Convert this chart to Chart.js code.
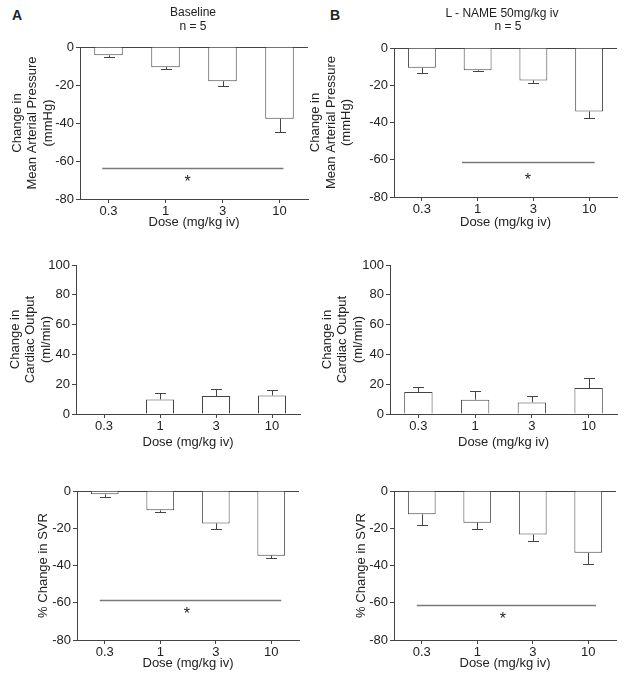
<!DOCTYPE html>
<html>
<head>
<meta charset="utf-8">
<script src="https://cdn.jsdelivr.net/npm/chart.js@4/dist/chart.umd.min.js"></script>
<style>
  body { margin: 0; background: #fff; width: 624px; height: 677px; position: relative; overflow: hidden; font-family: "Liberation Sans", Arial, sans-serif; color: #222; }
  canvas { position: absolute; }
  .lbl { position: absolute; font-size: 12px; line-height: 14px; text-align: center; width: 200px; color: #222; will-change: transform; }
  .big { position: absolute; font-size: 14px; font-weight: bold; line-height: 14px; }
</style>
</head>
<body>
<div class="big" style="left:12px; top:8px;">A</div>
<div class="big" style="left:330px; top:8px;">B</div>
<div class="lbl" style="left:93px; top:5px;">Baseline</div>
<div class="lbl" style="left:93px; top:19px;">n = 5</div>
<div class="lbl" style="left:402px; top:6px;">L - NAME 50mg/kg iv</div>
<div class="lbl" style="left:408px; top:19px;">n = 5</div>

<canvas id="mapA"></canvas>
<canvas id="mapB"></canvas>
<canvas id="coA"></canvas>
<canvas id="coB"></canvas>
<canvas id="svrA"></canvas>
<canvas id="svrB"></canvas>

<script>
// doses on the x axis
const doses = ['0.3', '1', '3', '10'];

// mean arterial pressure (mmHg), mean and SEM
const mapBaseline = [-4.4, -10.6, -18.0, -37.7];
const mapBaselineErr = [0.9, 1.1, 2.4, 6.9];
const mapLname = [-10.6, -12.0, -17.4, -34.1];
const mapLnameErr = [2.7, 0.6, 1.6, 3.7];

// cardiac output (ml/min)
const coBaseline = [0, 9.8, 12.1, 12.5];
const coBaselineErr = [0, 4.0, 4.6, 3.3];
const coLname = [14.8, 9.6, 7.8, 17.4];
const coLnameErr = [3.3, 5.6, 4.3, 6.5];

// % change in SVR
const svrBaseline = [-1.8, -10.4, -17.4, -34.7];
const svrBaselineErr = [1.6, 1.0, 3.0, 1.1];
const svrLname = [-12.5, -17.0, -23.4, -33.2];
const svrLnameErr = [5.5, 3.5, 3.4, 6.1];

// y ticks
const negTicks = [0, -20, -40, -60, -80];
const posTicks = [0, 20, 40, 60, 80, 100];

// significance bars: y value, from/to dose index, star position
const sigMapA = { y: -63.5, from: -0.11, to: 3.07, starX: 1.39, starY: -69.6 };
const sigMapB = { y: -61.2, from: 0.72, to: 3.1, starX: 1.9, starY: -69.8 };
const sigSvrA = { y: -58.5, from: -0.09, to: 3.18, starX: 1.48, starY: -64.8 };
const sigSvrB = { y: -61.4, from: -0.09, to: 3.14, starX: 1.46, starY: -67.5 };

const lineColor = '#444';
const textColor = '#222';
const fontFamily = '"Liberation Sans", Arial, sans-serif';
const fontSize = 13;

// draws the error bars and the significance line on top of the bars
const extrasPlugin = {
  id: 'extras',
  afterDatasetsDraw(chart, args, opts) {
    const ctx = chart.ctx;
    const x = chart.scales.x;
    const y = chart.scales.y;
    const meta = chart.getDatasetMeta(0);
    ctx.save();
    ctx.strokeStyle = lineColor;
    ctx.lineWidth = 1;
    for (let i = 0; i < opts.values.length; i++) {
      const v = opts.values[i];
      const e = opts.errors[i];
      if (!e) continue;
      const px = Math.round(meta.data[i].x);
      const y0 = y.getPixelForValue(v);
      const y1 = Math.round(y.getPixelForValue(v < 0 ? v - e : v + e)) + 0.5;
      ctx.beginPath();
      ctx.moveTo(px + 0.5, y0);
      ctx.lineTo(px + 0.5, y1);
      ctx.moveTo(px - 5, y1);
      ctx.lineTo(px + 6, y1);
      ctx.stroke();
    }
    if (opts.sig) {
      const s = opts.sig;
      const sy = Math.round(y.getPixelForValue(s.y)) + 0.5;
      ctx.strokeStyle = '#7a7a7a';
      ctx.lineWidth = 1.4;
      ctx.beginPath();
      ctx.moveTo(x.getPixelForValue(s.from), sy);
      ctx.lineTo(x.getPixelForValue(s.to), sy);
      ctx.stroke();
      ctx.fillStyle = textColor;
      ctx.font = '16px ' + fontFamily;
      ctx.textAlign = 'center';
      ctx.textBaseline = 'middle';
      ctx.fillText('*', x.getPixelForValue(s.starX), y.getPixelForValue(s.starY) + 3);
    }
    ctx.restore();
  }
};

function makePanel(id, p) {
  const canvas = document.getElementById(id);
  const plotW = p.right - p.axisX;
  const plotH = p.bottom - p.top;
  const padTop = 10;
  const padRight = 4;
  canvas.width = (p.axisX - p.left) + plotW + padRight;
  canvas.height = padTop + plotH + p.xH;
  canvas.style.left = p.left + 'px';
  canvas.style.top = (p.top - padTop) + 'px';

  const negative = p.min < 0;

  new Chart(canvas, {
    type: 'bar',
    data: {
      labels: doses,
      datasets: [{
        data: p.values,
        backgroundColor: '#fff',
        borderColor: lineColor,
        borderWidth: 1,
        barPercentage: 0.5,
        categoryPercentage: 1.0
      }]
    },
    options: {
      responsive: false,
      animation: false,
      devicePixelRatio: 1,
      layout: { padding: { top: padTop, right: padRight, left: 0, bottom: 0 } },
      plugins: {
        legend: { display: false },
        tooltip: { enabled: false },
        extras: { values: p.values, errors: p.errors, sig: p.sig }
      },
      scales: {
        x: {
          offset: true,
          grid: { display: true, drawOnChartArea: false, drawTicks: true, tickLength: 4, tickColor: lineColor, offset: false },
          border: { display: true, color: lineColor, width: 1 },
          ticks: { color: textColor, font: { family: fontFamily, size: fontSize }, padding: 1, maxRotation: 0 },
          title: { display: true, text: 'Dose (mg/kg iv)', color: textColor, font: { family: fontFamily, size: fontSize, lineHeight: 1.2 }, padding: { top: 0, bottom: 1 } },
          afterFit(scale) { scale.height = p.xH; }
        },
        y: {
          min: p.min,
          max: p.max,
          afterBuildTicks(scale) { scale.ticks = p.ticks.map(v => ({ value: v })); },
          grid: {
            display: true,
            drawOnChartArea: negative,
            drawTicks: true,
            tickLength: 4,
            tickColor: lineColor,
            color: ctx => (ctx.tick && ctx.tick.value === 0) ? lineColor : 'rgba(0,0,0,0)'
          },
          border: { display: true, color: lineColor, width: 1 },
          ticks: { color: textColor, font: { family: fontFamily, size: fontSize }, padding: 2 },
          title: { display: true, text: p.title, color: textColor, font: { family: fontFamily, size: fontSize, lineHeight: 1.2 }, padding: { top: p.tpad, bottom: 0 } },
          afterFit(scale) { scale.width = p.axisX - p.left; }
        }
      }
    },
    plugins: [extrasPlugin]
  });
}

const mapTitle = ['Change in', 'Mean Arterial Pressure', '(mmHg)'];
const coTitle = ['Change in', 'Cardiac Output', '(ml/min)'];
const svrTitle = '% Change in SVR';

makePanel('mapA', { left: 0, axisX: 80, right: 308, top: 47, bottom: 199, xH: 32, tpad: 9.2, min: -80, max: 0, ticks: negTicks, values: mapBaseline, errors: mapBaselineErr, sig: sigMapA, title: mapTitle });
makePanel('mapB', { left: 300, axisX: 394, right: 617, top: 48, bottom: 197, xH: 34, tpad: 7.7, min: -80, max: 0, ticks: negTicks, values: mapLname, errors: mapLnameErr, sig: sigMapB, title: mapTitle });
makePanel('coA', { left: 0, axisX: 76, right: 300, top: 265, bottom: 414, xH: 37, tpad: 7.2, min: 0, max: 100, ticks: posTicks, values: coBaseline, errors: coBaselineErr, sig: null, title: coTitle });
makePanel('coB', { left: 300, axisX: 390, right: 617, top: 265, bottom: 414, xH: 37, tpad: 19.2, min: 0, max: 100, ticks: posTicks, values: coLname, errors: coLnameErr, sig: null, title: coTitle });
makePanel('svrA', { left: 0, axisX: 77, right: 299, top: 491, bottom: 640, xH: 32, tpad: 35.2, min: -80, max: 0, ticks: negTicks, values: svrBaseline, errors: svrBaselineErr, sig: sigSvrA, title: svrTitle });
makePanel('svrB', { left: 300, axisX: 394, right: 616, top: 491, bottom: 640, xH: 32, tpad: 53.2, min: -80, max: 0, ticks: negTicks, values: svrLname, errors: svrLnameErr, sig: sigSvrB, title: svrTitle });
</script>
</body>
</html>
